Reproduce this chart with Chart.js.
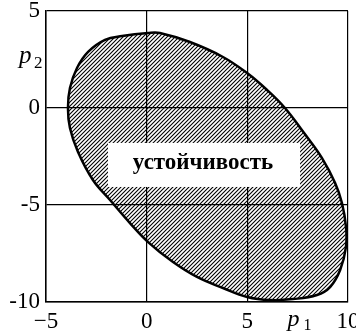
<!DOCTYPE html>
<html>
<head>
<meta charset="utf-8">
<script src="https://cdn.jsdelivr.net/npm/chart.js@4/dist/chart.umd.min.js"></script>
<style>
  html, body { margin: 0; padding: 0; background: #fff; }
</style>
</head>
<body>
<canvas id="c" width="356" height="333"></canvas>
<script>
// Boundary of the stability region in the (p1, p2) plane, clockwise from the top
const p1 = [0.07, 0.66, 2.15, 3.79, 4.99, 5.98, 6.87, 7.82, 8.71, 9.36, 9.70, 9.90, 9.90, 9.61,
            9.11, 8.46, 7.27, 6.13, 4.99, 3.79, 2.50, 1.31, 0.07, -0.83, -1.82, -2.67, -3.41,
            -3.81, -3.91, -3.81, -3.46, -2.91, -2.07, -1.22];
const p2 = [3.87, 3.87, 3.40, 2.63, 1.80, 0.93, 0.00, -1.29, -2.58, -3.87, -4.90, -6.13, -7.16, -8.35,
            -9.23, -9.64, -9.85, -9.90, -9.74, -9.28, -8.71, -7.94, -6.91, -5.93, -4.74, -3.71, -2.27,
            -1.03, 0.00, 1.03, 2.06, 2.89, 3.51, 3.71];

// Axis ticks and their printed labels
const xTicks = [-5, 0, 5, 10];
const xTickLabels = ['\u22125', '0', '5', '10'];
const yTicks = [5, 0, -5, -10];
const yTickLabels = ['5', '0', '-5', '-10'];

const regionLabel = 'устойчивость';

const outline = p1.map((x, i) => ({ x: x, y: p2[i] }));

function hatchPattern() {
  const s = 4;
  const c = document.createElement('canvas');
  c.width = s; c.height = s;
  const g = c.getContext('2d');
  g.fillStyle = '#fff';
  g.fillRect(0, 0, s, s);
  g.strokeStyle = '#000';
  g.lineWidth = 1.1;
  g.beginPath();
  g.moveTo(-1, s + 1); g.lineTo(s + 1, -1);
  g.moveTo(-1, 1); g.lineTo(1, -1);
  g.moveTo(s - 1, s + 1); g.lineTo(s + 1, s - 1);
  g.stroke();
  return g.createPattern(c, 'repeat');
}

const SERIF = '"Liberation Serif", "DejaVu Serif", serif';

// the outline is a closed curve: let the line element wrap around
const closedOutline = {
  id: 'closedOutline',
  afterDatasetsUpdate(chart) {
    const line = chart.getDatasetMeta(0).dataset;
    line._loop = true;
    line._fullLoop = true;
    line._segments = undefined;
    line._path = undefined;
    line._pointsUpdated = false;
  }
};

// white label box inside the region and the italic axis names
const annotations = {
  id: 'annotations',
  afterDraw(chart) {
    const ctx = chart.ctx;
    const xs = chart.scales.x, ys = chart.scales.y;
    ctx.save();
    const bx0 = xs.getPixelForValue(-1.92), bx1 = xs.getPixelForValue(7.62);
    const by0 = ys.getPixelForValue(-1.80), by1 = ys.getPixelForValue(-4.07);
    ctx.fillStyle = '#fff';
    ctx.fillRect(bx0, by0, bx1 - bx0, by1 - by0);
    ctx.fillStyle = '#000';
    ctx.font = 'bold 23px ' + SERIF;
    ctx.textAlign = 'center';
    ctx.textBaseline = 'middle';
    ctx.fillText(regionLabel, (bx0 + bx1) / 2 - 1, (by0 + by1) / 2 - 2);

    ctx.textAlign = 'left';
    ctx.textBaseline = 'alphabetic';
    const a = chart.chartArea;
    ctx.font = 'italic 25px ' + SERIF;
    ctx.fillText('p', a.left - 27, 63);
    ctx.font = '17px ' + SERIF;
    ctx.fillText('2', a.left - 12, 68);
    ctx.font = 'italic 24px ' + SERIF;
    ctx.fillText('p', xs.getPixelForValue(7), 326);
    ctx.font = '16px ' + SERIF;
    ctx.fillText('1', xs.getPixelForValue(7) + 16, 330);
    ctx.restore();
  }
};

new Chart(document.getElementById('c'), {
  type: 'scatter',
  data: {
    datasets: [{
      data: outline,
      showLine: true,
      fill: 'shape',
      backgroundColor: hatchPattern(),
      borderColor: '#000',
      borderWidth: 2.5,
      pointRadius: 0,
      tension: 0.4
    }]
  },
  options: {
    responsive: false,
    animation: false,
    devicePixelRatio: 1,
    layout: { padding: { left: 0, right: 8, top: 11, bottom: 0 } },
    plugins: { legend: { display: false }, tooltip: { enabled: false } },
    scales: {
      x: {
        type: 'linear', min: -5, max: 10,
        afterBuildTicks: s => { s.ticks = xTicks.map(v => ({ value: v })); },
        afterFit: s => { s.height = 31; s.paddingLeft = 0; s.paddingRight = 0; },
        ticks: {
          callback: v => xTickLabels[xTicks.indexOf(v)],
          font: { family: SERIF, size: 23 }, color: '#000', padding: 6, maxRotation: 0
        },
        grid: { color: '#000', lineWidth: 1.2, drawTicks: false, z: 1 },
        border: { color: '#000', width: 1.5, z: 1 }
      },
      y: {
        type: 'linear', min: -10, max: 5,
        afterBuildTicks: s => { s.ticks = yTicks.map(v => ({ value: v })); },
        afterFit: s => { s.width = 46; s.paddingTop = 0; s.paddingBottom = 0; },
        ticks: {
          callback: v => yTickLabels[yTicks.indexOf(v)],
          font: { family: SERIF, size: 23 }, color: '#000', padding: 6
        },
        grid: { color: '#000', lineWidth: 1.2, drawTicks: false, z: 1 },
        border: { color: '#000', width: 1.5, z: 1 }
      }
    }
  },
  plugins: [closedOutline, annotations]
});
</script>
</body>
</html>
